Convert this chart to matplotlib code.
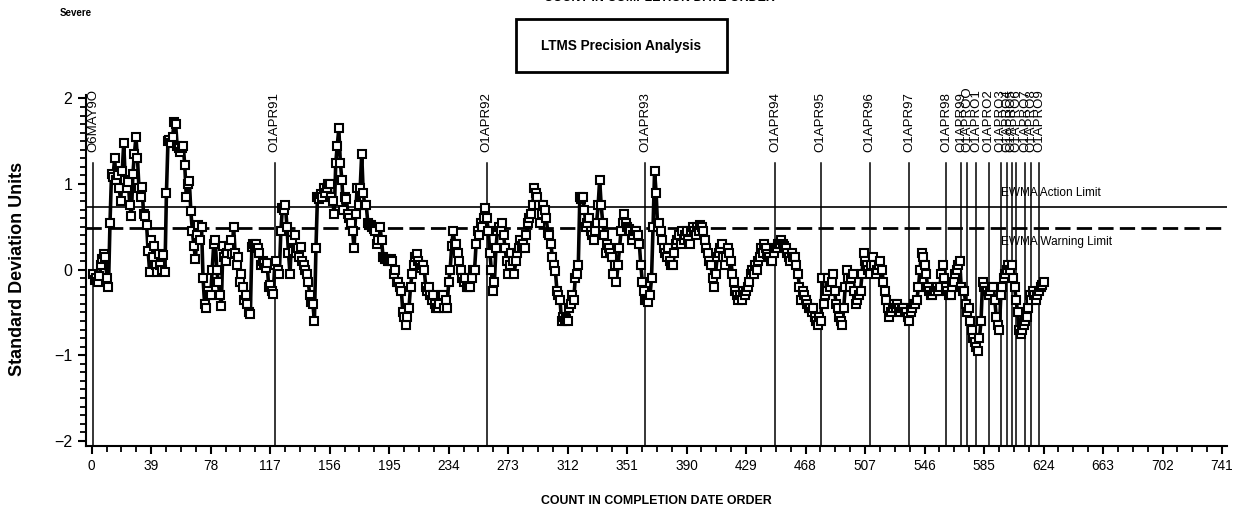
import matplotlib
matplotlib.use("Agg")
import matplotlib.pyplot as plt
from matplotlib import font_manager
from matplotlib.patches import Rectangle
from matplotlib.ticker import MultipleLocator
import numpy as np

# EWMA values, one per test in completion date order (count 1..624)
ewma = [
    -0.05, -0.12, -0.10, -0.15, -0.08, 0.05, 0.12, 0.18, 0.15, -0.10,
    -0.20, 0.55, 1.12, 1.08, 1.30, 1.05, 1.10, 0.95, 0.80, 1.15,
    1.48, 1.05, 0.95, 1.02, 0.75, 0.63, 1.12, 1.35, 1.55, 1.30,
    0.95, 0.85, 0.97, 0.65, 0.63, 0.52, 0.22, -0.03, 0.35, 0.15,
    0.28, 0.05, -0.03, 0.18, 0.05, 0.00, 0.17, -0.03, 0.90, 1.50,
    1.52, 1.48, 1.55, 1.72, 1.70, 1.45, 1.42, 1.38, 1.42, 1.45,
    1.22, 0.85, 1.00, 1.03, 0.68, 0.45, 0.28, 0.13, 0.40, 0.52,
    0.35, 0.50, -0.10, -0.40, -0.45, -0.25, -0.30, -0.30, 0.00, 0.30,
    0.35, 0.00, -0.15, -0.30, -0.42, 0.28, 0.15, 0.10, 0.20, 0.28,
    0.35, 0.18, 0.50, 0.20, 0.05, 0.15, -0.15, -0.05, -0.20, -0.35,
    -0.30, -0.40, -0.50, -0.52, 0.27, 0.30, 0.28, 0.30, 0.25, 0.20,
    0.05, 0.10, 0.08, 0.02, 0.08, -0.20, -0.18, -0.25, -0.28, 0.05,
    0.10, 0.00, -0.05, 0.45, 0.72, 0.70, 0.75, 0.50, 0.20, -0.05,
    0.35, 0.22, 0.40, 0.20, 0.25, 0.15, 0.27, 0.10, 0.05, 0.00,
    -0.05, -0.15, -0.30, -0.38, -0.40, -0.60, 0.25, 0.85, 0.82, 0.88,
    0.85, 0.95, 0.90, 0.95, 1.00, 1.00, 0.85, 0.80, 0.65, 1.25,
    1.45, 1.65, 1.25, 1.05, 0.70, 0.85, 0.82, 0.65, 0.60, 0.55,
    0.45, 0.25, 0.65, 0.95, 0.75, 0.95, 1.35, 0.90, 0.75, 0.75,
    0.55, 0.52, 0.52, 0.50, 0.48, 0.45, 0.30, 0.35, 0.50, 0.35,
    0.15, 0.12, 0.12, 0.10, 0.10, 0.12, 0.10, -0.05, 0.00, -0.15,
    -0.15, -0.20, -0.25, -0.50, -0.55, -0.65, -0.55, -0.45, -0.20, -0.05,
    0.05, 0.15, 0.18, 0.10, 0.05, 0.02, 0.05, 0.00, -0.20, -0.25,
    -0.20, -0.30, -0.35, -0.30, -0.40, -0.45, -0.45, -0.40, -0.30, -0.30,
    -0.45, -0.35, -0.45, -0.15, 0.00, 0.28, 0.45, 0.30, 0.30, 0.20,
    0.10, 0.00, -0.10, -0.15, -0.10, -0.20, -0.20, -0.20, -0.10, 0.00,
    0.00, 0.30, 0.45, 0.40, 0.55, 0.50, 0.60, 0.72, 0.60, 0.45,
    0.20, 0.00, -0.25, -0.15, 0.25, 0.45, 0.50, 0.45, 0.55, 0.40,
    0.25, 0.10, -0.05, 0.05, 0.20, 0.10, -0.05, 0.10, 0.20, 0.25,
    0.35, 0.28, 0.30, 0.25, 0.40, 0.55, 0.60, 0.65, 0.75, 0.95,
    0.90, 0.85, 0.75, 0.55, 0.65, 0.75, 0.70, 0.60, 0.43, 0.40,
    0.30, 0.15, 0.05, -0.02, -0.25, -0.30, -0.35, -0.60, -0.55, -0.60,
    -0.58, -0.60, -0.45, -0.40, -0.30, -0.35, -0.10, -0.05, 0.05, 0.85,
    0.82, 0.85, 0.70, 0.50, 0.55, 0.60, 0.45, 0.40, 0.35, 0.45,
    0.55, 0.75, 1.05, 0.75, 0.55, 0.40, 0.20, 0.30, 0.25, 0.20,
    0.15, -0.05, 0.05, -0.15, 0.05, 0.25, 0.45, 0.55, 0.65, 0.55,
    0.50, 0.48, 0.45, 0.35, 0.40, 0.45, 0.45, 0.40, 0.30, 0.05,
    -0.15, -0.25, -0.35, -0.35, -0.38, -0.30, -0.10, 0.50, 1.15, 0.90,
    0.50, 0.55, 0.45, 0.35, 0.25, 0.20, 0.15, 0.25, 0.10, 0.05,
    0.05, 0.20, 0.30, 0.35, 0.40, 0.30, 0.45, 0.35, 0.40, 0.45,
    0.35, 0.30, 0.45, 0.50, 0.45, 0.40, 0.50, 0.45, 0.52, 0.50,
    0.45, 0.35, 0.25, 0.20, 0.10, 0.05, -0.10, -0.20, -0.05, 0.15,
    0.20, 0.25, 0.30, 0.15, 0.05, 0.15, 0.25, 0.20, 0.10, -0.05,
    -0.15, -0.25, -0.30, -0.35, -0.30, -0.35, -0.25, -0.30, -0.25, -0.20,
    -0.15, -0.05, 0.00, -0.05, 0.05, 0.00, 0.10, 0.15, 0.25, 0.20,
    0.30, 0.25, 0.18, 0.15, 0.10, 0.10, 0.20, 0.25, 0.25, 0.30,
    0.30, 0.35, 0.30, 0.28, 0.25, 0.20, 0.15, 0.10, 0.20, 0.15,
    0.15, 0.05, -0.05, -0.20, -0.35, -0.25, -0.30, -0.35, -0.40, -0.45,
    -0.45, -0.50, -0.45, -0.55, -0.60, -0.65, -0.55, -0.60, -0.10, -0.40,
    -0.30, -0.25, -0.10, -0.20, -0.15, -0.05, -0.25, -0.40, -0.45, -0.55,
    -0.60, -0.65, -0.45, -0.20, 0.00, -0.10, -0.20, -0.10, -0.05, -0.25,
    -0.40, -0.35, -0.30, -0.25, -0.05, 0.20, 0.10, 0.05, 0.00, -0.05,
    0.05, 0.15, 0.05, -0.05, 0.00, 0.05, 0.10, 0.00, -0.15, -0.25,
    -0.35, -0.45, -0.55, -0.50, -0.45, -0.40, -0.45, -0.40, -0.45, -0.50,
    -0.45, -0.45, -0.50, -0.50, -0.55, -0.60, -0.50, -0.45, -0.40, -0.40,
    -0.35, -0.20, 0.00, 0.20, 0.15, 0.05, -0.05, -0.20, -0.25, -0.30,
    -0.30, -0.25, -0.25, -0.20, -0.25, -0.20, -0.05, 0.05, -0.10, -0.20,
    -0.25, -0.30, -0.30, -0.20, -0.15, -0.05, 0.00, 0.05, 0.10, -0.20,
    -0.25, -0.25, -0.40, -0.50, -0.45, -0.60, -0.70, -0.80, -0.85, -0.90,
    -0.95, -0.80, -0.60, -0.15, -0.20, -0.25, -0.25, -0.30, -0.25, -0.20,
    -0.20, -0.35, -0.55, -0.65, -0.70, -0.30, -0.20, -0.10, -0.05, 0.00,
    0.05, 0.00, 0.05, -0.10, -0.20, -0.35, -0.50, -0.70, -0.75, -0.70,
    -0.65, -0.60, -0.55, -0.45, -0.30, -0.35, -0.25, -0.30, -0.35, -0.30,
    -0.25, -0.20, -0.18, -0.15,
]

# Reference dates (label, count where the period starts)
date_labels = ["O6MAY9O", "O1APR91", "O1APR92", "O1APR93", "O1APR94", "O1APR95",
               "O1APR96", "O1APR97", "O1APR98", "O1APR99", "O1APROO", "O1APRO1",
               "O1APRO2", "O1APRO3", "O1APRO4", "O1APRO5", "O1APRO6", "O1APRO7",
               "O1APRO8", "O1APRO9"]
date_counts = [1, 120, 259, 363, 448, 478, 510, 536, 560, 570, 574, 580,
               588, 596, 600, 603, 606, 612, 616, 621]

action_limit = 0.735
warning_limit = 0.49
x_ticks = list(range(0, 742, 39))
y_ticks = [-2, -1, 0, 1, 2]

# Use a narrow face when one is installed, otherwise plain Liberation Sans
installed = {f.name for f in font_manager.fontManager.ttflist}
if "Liberation Sans Narrow" in installed:
    NARROW = ["Liberation Sans Narrow", "DejaVu Sans"]
    shrink = 1.0
else:
    NARROW = ["Liberation Sans", "DejaVu Sans"]
    shrink = 0.85
REGULAR = ["Liberation Sans", "DejaVu Sans"]

plt.rcParams["lines.scale_dashes"] = False

fig = plt.figure(figsize=(12.49, 5.08), dpi=100)
ax = fig.add_axes([85.6 / 1249, 62 / 508, 1141 / 1249, 351 / 508])

# Vertical date lines with rotated labels above them
for lab, c in zip(date_labels, date_counts):
    ax.plot([c, c], [-2.06, 1.25], color="black", lw=1.1, zorder=1)
    ax.text(c, 1.38, lab, rotation=90, ha="center", va="bottom",
            fontsize=9.5, family=REGULAR, clip_on=False)

# Limits
ax.axhline(action_limit, color="black", lw=1.2, zorder=1)
ax.axhline(warning_limit, color="black", lw=2.0, dashes=(11, 4.5), zorder=1)
ax.text(596, action_limit + 0.09, "EWMA Action Limit", fontsize=10 * shrink,
        family=NARROW, va="bottom", ha="left")
ax.text(596, warning_limit - 0.1, "EWMA Warning Limit", fontsize=10 * shrink,
        family=NARROW, va="top", ha="left")

# EWMA series
counts = np.arange(1, len(ewma) + 1)
ax.plot(counts, ewma, "-", color="black", lw=2.6, marker="s", ms=5.5,
        mfc="white", mec="black", mew=1.5, zorder=3)

# Axes cosmetics
ax.set_xlim(-4, 744)
ax.set_ylim(-2.06, 2.04)
ax.spines["top"].set_visible(False)
ax.spines["right"].set_visible(False)
ax.spines["left"].set_linewidth(1.5)
ax.spines["bottom"].set_linewidth(1.5)
ax.set_xticks(x_ticks)
ax.set_yticks(y_ticks)
ax.xaxis.set_minor_locator(MultipleLocator(9.75))
ax.yaxis.set_minor_locator(MultipleLocator(0.1))
ax.tick_params(which="major", length=6, width=1.5)
ax.tick_params(which="minor", length=4, width=1.3)
for t in ax.get_xticklabels():
    t.set_family(NARROW)
    t.set_fontsize(11 * shrink + 0.5)
for t in ax.get_yticklabels():
    t.set_family(REGULAR)
    t.set_fontsize(11.5)

ax.set_ylabel("Standard Deviation Units", fontsize=13, fontweight="bold",
              family=REGULAR)
ax.yaxis.set_label_coords(-0.052, 0.505)
ax.set_xlabel("COUNT IN COMPLETION DATE ORDER", fontsize=10.5 * shrink,
              fontweight="bold", family=NARROW, labelpad=16)

# Header texts
fig.text(0.528, 1.003, "COUNT IN COMPLETION DATE ORDER", fontsize=10.5 * shrink,
         fontweight="bold", family=NARROW, ha="center", va="center")
fig.text(60 / 1249, 1 - 13 / 508, "Severe", fontsize=7, fontweight="bold",
         family=NARROW, ha="left", va="center")
fig.patches.append(Rectangle((516 / 1249, 1 - 72 / 508), 211 / 1249, 53 / 508,
                             transform=fig.transFigure, fill=False,
                             edgecolor="black", lw=2))
fig.text(621 / 1249, 1 - 46 / 508, "LTMS Precision Analysis",
         fontsize=11.5 * shrink, fontweight="bold", family=NARROW,
         ha="center", va="center")

fig.savefig("out.png", dpi=100)
